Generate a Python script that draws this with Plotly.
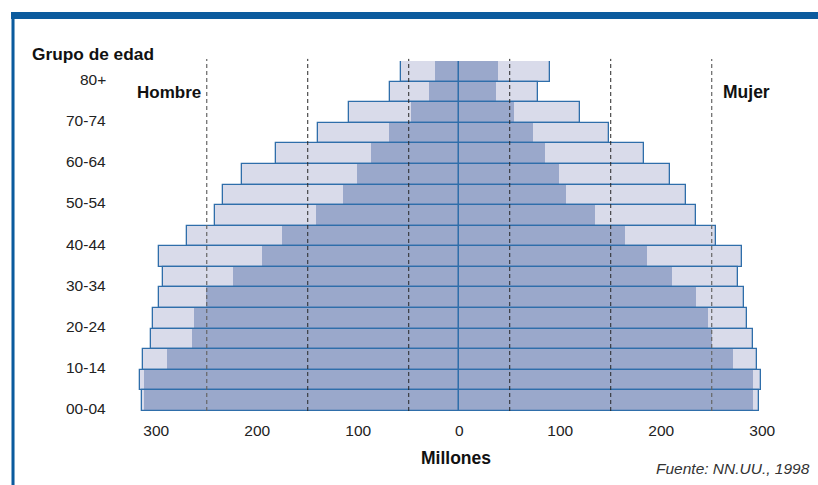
import plotly.graph_objects as go

# ---- data (millones) ----
grupos = ["00-04", "05-09", "10-14", "15-19", "20-24", "25-29", "30-34", "35-39",
          "40-44", "45-49", "50-54", "55-59", "60-64", "65-69", "70-74", "75-79", "80+"]
etiquetas_edad = ["00-04", "10-14", "20-24", "30-34", "40-44", "50-54", "60-64", "70-74", "80+"]

hombre_claro = [314, 316, 313, 305, 303, 297, 293, 297, 270, 242, 234, 215, 181, 140, 109, 69, 58]
hombre_oscuro = [312, 312, 289, 265, 263, 251, 224, 195, 175, 142, 115, 101, 87, 70, 48, 30, 24]
mujer_claro = [297, 299, 295, 291, 285, 282, 276, 280, 254, 234, 225, 209, 183, 148, 120, 78, 90]
mujer_oscuro = [291, 291, 271, 250, 246, 234, 211, 186, 164, 134, 106, 99, 85, 73, 54, 36, 38]

x_ticks = [-300, -200, -100, 0, 100, 200, 300]
x_ticktext = ["300", "200", "100", "0", "100", "200", "300"]
lineas_guia = [-250, -150, -50, 50, 150, 250]

FONT = "Liberation Sans, Arial, sans-serif"
C_CLARO = "#d9dbea"
C_OSCURO = "#9aa8cb"
C_BORDE = "#2f6eaa"
C_MARCO = "#0b5b9e"

neg = lambda v: [-a for a in v]

fig = go.Figure()
# light (outer) bars
fig.add_trace(go.Bar(y=grupos, x=neg(hombre_claro), orientation="h",
                     marker=dict(color=C_CLARO, line=dict(width=0)), showlegend=False))
fig.add_trace(go.Bar(y=grupos, x=mujer_claro, orientation="h",
                     marker=dict(color=C_CLARO, line=dict(width=0)), showlegend=False))
# dark (inner) bars
fig.add_trace(go.Bar(y=grupos, x=neg(hombre_oscuro), orientation="h",
                     marker=dict(color=C_OSCURO, line=dict(width=0)), showlegend=False))
fig.add_trace(go.Bar(y=grupos, x=mujer_oscuro, orientation="h",
                     marker=dict(color=C_OSCURO, line=dict(width=0)), showlegend=False))
# outlines of outer bars on top
fig.add_trace(go.Bar(y=grupos, x=neg(hombre_claro), orientation="h",
                     marker=dict(color="rgba(0,0,0,0)", line=dict(width=1.3, color=C_BORDE)),
                     showlegend=False))
fig.add_trace(go.Bar(y=grupos, x=mujer_claro, orientation="h",
                     marker=dict(color="rgba(0,0,0,0)", line=dict(width=1.3, color=C_BORDE)),
                     showlegend=False))

shapes = []
for v in lineas_guia:
    shapes.append(dict(type="line", xref="x", yref="paper", x0=v, x1=v, y0=0, y1=1.006,
                       layer="above",
                       line=dict(color="#666666" if abs(v) == 250 else "#262626",
                                 width=1.2 if abs(v) == 250 else 1, dash="4px,3px")))
# frame: top bar and left line
shapes.append(dict(type="rect", xref="paper", yref="paper", x0=-0.1815, x1=1.04,
                   y0=1.12, y1=1.14, fillcolor=C_MARCO, line=dict(width=0), layer="above"))
shapes.append(dict(type="rect", xref="paper", yref="paper", x0=-0.1808, x1=-0.1762,
                   y0=-0.215, y1=1.14, fillcolor=C_MARCO, line=dict(width=0), layer="above"))

ann = []
for e in etiquetas_edad:
    ann.append(dict(x=-0.0348, xref="paper", y=e, yref="y", text=e, showarrow=False,
                    xanchor="right", yanchor="middle", yshift=-8,
                    font=dict(family=FONT, size=15.5, color="#222222")))
ann += [
    dict(x=-0.1528, y=1.02, xref="paper", yref="paper", text="<b>Grupo de edad</b>",
         showarrow=False, xanchor="left", yanchor="middle",
         font=dict(family=FONT, size=17.3, color="#111111")),
    dict(x=0.006, y=0.9086, xref="paper", yref="paper", text="<b>Hombre</b>",
         showarrow=False, xanchor="left", yanchor="middle",
         font=dict(family=FONT, size=17, color="#111111")),
    dict(x=0.8926, y=0.9114, xref="paper", yref="paper", text="<b>Mujer</b>",
         showarrow=False, xanchor="left", yanchor="middle",
         font=dict(family=FONT, size=17.5, color="#111111")),
    dict(x=0.4917, y=-0.135, xref="paper", yref="paper", text="<b>Millones</b>",
         showarrow=False, xanchor="center", yanchor="middle",
         font=dict(family=FONT, size=17.5, color="#111111")),
    dict(x=1.0303, y=-0.163, xref="paper", yref="paper", text="<i>Fuente: NN.UU., 1998</i>",
         showarrow=False, xanchor="right", yanchor="middle",
         font=dict(family=FONT, size=15.5, color="#333333")),
]

fig.update_layout(
    width=818, height=485,
    margin=dict(l=131, r=26, t=61, b=74, pad=0),
    barmode="overlay", bargap=0,
    plot_bgcolor="white", paper_bgcolor="white",
    shapes=shapes, annotations=ann,
    xaxis=dict(range=[-325, 329.5], tickvals=x_ticks, ticktext=x_ticktext,
               showgrid=False, zeroline=False, showline=False, ticks="",
               ticklabelstandoff=8,
               tickfont=dict(family=FONT, size=15.5, color="#222222"), fixedrange=True),
    yaxis=dict(type="category", categoryorder="array", categoryarray=grupos,
               range=[-0.5, 16.5], showticklabels=False, showgrid=False,
               zeroline=False, showline=False, ticks="", fixedrange=True),
)

fig.write_html("out.html", config={"displayModeBar": False},
               post_script="document.body.style.margin='0px';")
